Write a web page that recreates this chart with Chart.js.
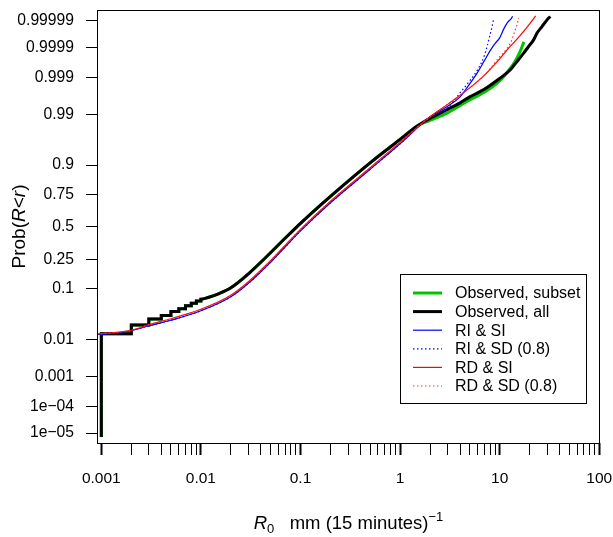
<!DOCTYPE html>
<html>
<head>
<meta charset="utf-8">
<script src="https://cdn.jsdelivr.net/npm/chart.js@4.4.1/dist/chart.umd.min.js"></script>
<style>
  html, body { margin: 0; padding: 0; background: #fff; }
  #wrap { width: 613px; height: 537px; position: relative; }
</style>
</head>
<body>
<div id="wrap"><canvas id="chart"></canvas></div>
<script>
// R0 in mm per 15 minutes (x), cumulative probability Prob(R<r) (y)

// observed, all data (empirical CDF: steps at the gauge resolution, then smooth)
const obsAllX = [0.001, 0.001, 0.002, 0.002, 0.003, 0.003, 0.004, 0.004, 0.005, 0.005,
  0.006, 0.006, 0.007, 0.007, 0.008, 0.008, 0.009, 0.009, 0.01, 0.01,
  0.012, 0.015, 0.02, 0.03, 0.05, 0.07, 0.1, 0.2, 0.5, 1, 1.5, 2, 3, 4, 5, 7, 10,
  12.8, 14.9, 17.4, 19.5, 21.9, 23.7, 26.6, 29.9, 32.2];
const obsAllP = [0.000007, 0.0136, 0.0136, 0.0212, 0.0212, 0.0284, 0.0284, 0.0335, 0.0335, 0.0400,
  0.0400, 0.0455, 0.0455, 0.0515, 0.0515, 0.0570, 0.0570, 0.0626, 0.0626, 0.0673,
  0.0730, 0.0835, 0.1042, 0.1664, 0.2968, 0.4076, 0.5305, 0.7372, 0.9079, 0.9651, 0.9819, 0.98774, 0.99255, 0.99490, 0.99645, 0.99781, 0.99895,
  0.999427, 0.999690, 0.999839, 0.999906, 0.999946, 0.9999698, 0.9999832, 0.9999909, 0.9999934];

// observed, subset
const obsSubX = [0.001, 0.001, 0.002, 0.002, 0.003, 0.003, 0.004, 0.004, 0.005, 0.005,
  0.006, 0.006, 0.007, 0.007, 0.008, 0.008, 0.009, 0.009, 0.01, 0.01,
  0.012, 0.015, 0.02, 0.03, 0.05, 0.07, 0.1, 0.2, 0.5, 1, 1.5, 2, 3, 5, 7, 10, 12, 14, 16, 17.5];
const obsSubP = [0.000007, 0.0136, 0.0136, 0.0212, 0.0212, 0.0284, 0.0284, 0.0335, 0.0335, 0.0400,
  0.0400, 0.0455, 0.0455, 0.0515, 0.0515, 0.0570, 0.0570, 0.0626, 0.0626, 0.0673,
  0.0730, 0.0835, 0.1042, 0.1664, 0.2968, 0.4076, 0.5305, 0.7372, 0.9079, 0.9651, 0.9819, 0.98635, 0.99092, 0.99574, 0.99734, 0.99875, 0.999339, 0.999660, 0.999854, 0.9999362];

// model RI & SI
const riSiX = [0.0009, 0.001, 0.002, 0.003, 0.005, 0.01, 0.02, 0.03, 0.05, 0.07, 0.1, 0.2, 0.5, 1, 2, 3, 4, 5, 6, 7, 8, 9, 10, 11, 12, 13, 13.5];
const riSiP = [0.0130, 0.0132, 0.0159, 0.0205, 0.0268, 0.0415, 0.0744, 0.1219, 0.2327, 0.3396, 0.4678, 0.6917, 0.8837, 0.9574,
  0.98868, 0.99374, 0.99645, 0.99847, 0.999313, 0.999707, 0.999866, 0.9999277, 0.9999545, 0.9999793, 0.9999885, 0.9999917, 0.9999935];

// model RI & SD (0.8)
const riSdX = [0.0009, 0.001, 0.002, 0.003, 0.005, 0.01, 0.02, 0.03, 0.05, 0.07, 0.1, 0.2, 0.5, 1, 2, 3, 4, 5, 6, 7, 7.5, 8, 8.5, 8.7];
const riSdP = [0.0130, 0.0132, 0.0159, 0.0205, 0.0268, 0.0415, 0.0744, 0.1219, 0.2327, 0.3396, 0.4678, 0.6917, 0.8837, 0.9574,
  0.98868, 0.99316, 0.99724, 0.99875, 0.999427, 0.999801, 0.999911, 0.999965, 0.9999869, 0.9999917];

// model RD & SI
const rdSiX = [0.0009, 0.001, 0.002, 0.003, 0.005, 0.01, 0.02, 0.03, 0.05, 0.07, 0.1, 0.2, 0.5, 1, 2, 3, 5, 7, 10, 12, 15, 20, 23];
const rdSiP = [0.0134, 0.0136, 0.0163, 0.0216, 0.0288, 0.0443, 0.0789, 0.1285, 0.2423, 0.3510, 0.4802, 0.7025, 0.8896, 0.9601,
  0.98868, 0.99441, 0.99800, 0.999148, 0.999749, 0.999882, 0.999950, 0.9999869, 0.9999937];

// model RD & SD (0.8)
const rdSdX = [0.0009, 0.001, 0.002, 0.003, 0.005, 0.01, 0.02, 0.03, 0.05, 0.07, 0.1, 0.2, 0.5, 1, 2, 3, 5, 7, 10, 12, 13, 14, 15, 15.5];
const rdSdP = [0.0134, 0.0136, 0.0163, 0.0216, 0.0288, 0.0443, 0.0789, 0.1285, 0.2423, 0.3510, 0.4802, 0.7025, 0.8896, 0.9601,
  0.98868, 0.99441, 0.99800, 0.999148, 0.999785, 0.999895, 0.9999362, 0.9999705, 0.9999869, 0.9999925];

const legendLabels = ['Observed, subset', 'Observed, all', 'RI & SI', 'RI & SD (0.8)', 'RD & SI', 'RD & SD (0.8)'];

// axis ticks
const yTickProbs = [0.00001, 0.0001, 0.001, 0.01, 0.1, 0.25, 0.5, 0.75, 0.9, 0.99, 0.999, 0.9999, 0.99999];
const yTickLabels = ['1e\u221205', '1e\u221204', '0.001', '0.01', '0.1', '0.25', '0.5', '0.75', '0.9', '0.99', '0.999', '0.9999', '0.99999'];
const xMajorTicks = [0.001, 0.01, 0.1, 1, 10, 100];
const xMajorLabels = ['0.001', '0.01', '0.1', '1', '10', '100'];

const FONT = '"Liberation Sans", Arial, Helvetica, sans-serif';

// normal quantile (Acklam) - the y axis is a probit scale
function qnorm(p) {
  const a = [-3.969683028665376e+01, 2.209460984245205e+02, -2.759285104469687e+02, 1.383577518672690e+02, -3.066479806614716e+01, 2.506628277459239e+00];
  const b = [-5.447609879822406e+01, 1.615858368580409e+02, -1.556989798598866e+02, 6.680131188771972e+01, -1.328068155288572e+01];
  const c = [-7.784894002430293e-03, -3.223964580411365e-01, -2.400758277161838e+00, -2.549732539343734e+00, 4.374664141464968e+00, 2.938163982698783e+00];
  const d = [7.784695709041462e-03, 3.224671290700398e-01, 2.445134137142996e+00, 3.754408661907416e+00];
  const pl = 0.02425;
  let q, r;
  if (p < pl) {
    q = Math.sqrt(-2 * Math.log(p));
    return (((((c[0] * q + c[1]) * q + c[2]) * q + c[3]) * q + c[4]) * q + c[5]) / ((((d[0] * q + d[1]) * q + d[2]) * q + d[3]) * q + 1);
  }
  if (p > 1 - pl) {
    q = Math.sqrt(-2 * Math.log(1 - p));
    return -(((((c[0] * q + c[1]) * q + c[2]) * q + c[3]) * q + c[4]) * q + c[5]) / ((((d[0] * q + d[1]) * q + d[2]) * q + d[3]) * q + 1);
  }
  q = p - 0.5;
  r = q * q;
  return (((((a[0] * r + a[1]) * r + a[2]) * r + a[3]) * r + a[4]) * r + a[5]) * q / (((((b[0] * r + b[1]) * r + b[2]) * r + b[3]) * r + b[4]) * r + 1);
}

const toPoints = (xs, ps) => xs.map((x, i) => ({ x, y: qnorm(ps[i]) }));

function series(xs, ps, color, width, dash, order) {
  return {
    data: toPoints(xs, ps),
    borderColor: color,
    borderWidth: width,
    borderDash: dash,
    pointRadius: 0,
    // monotone keeps the vertical/horizontal steps straight and smooths the rest
    cubicInterpolationMode: 'monotone',
    fill: false,
    order,
  };
}

// x tick list: 1..9 x 10^n from 0.001 to 100
const xAllTicks = [];
xMajorTicks.forEach((m, i) => {
  const top = i === xMajorTicks.length - 1 ? 1 : 9;
  for (let k = 1; k <= top; k++) xAllTicks.push(+(m * k).toPrecision(3));
});
const isMajor = v => xMajorTicks.some(m => Math.abs(m - v) / m < 1e-6);

// box, axis titles and legend
const decorPlugin = {
  id: 'decor',
  afterDraw(chart) {
    const { ctx, chartArea: ca } = chart;
    ctx.save();

    // plot frame
    ctx.strokeStyle = '#000';
    ctx.lineWidth = 1;
    ctx.strokeRect(Math.round(ca.left) + 0.5, Math.round(ca.top) + 0.5,
      Math.round(ca.right - ca.left) - 1, Math.round(ca.bottom - ca.top));

    ctx.fillStyle = '#000';
    ctx.textBaseline = 'alphabetic';

    // y title: Prob(R<r)
    const yParts = [['Prob(', ''], ['R', 'italic '], ['<', ''], ['r', 'italic '], [')', '']];
    ctx.save();
    ctx.translate(25, (ca.top + ca.bottom) / 2);
    ctx.rotate(-Math.PI / 2);
    let w = 0;
    yParts.forEach(([t, s]) => { ctx.font = s + '19px ' + FONT; w += ctx.measureText(t).width; });
    let cx = -w / 2;
    yParts.forEach(([t, s]) => {
      ctx.font = s + '19px ' + FONT;
      ctx.fillText(t, cx, 0);
      cx += ctx.measureText(t).width;
    });
    ctx.restore();

    // x title: R0  mm (15 minutes)^-1
    const xParts = [
      ['R', 'italic 18.5px ', 0],
      ['0', '13px ', 4],
      ['   mm (15 minutes)', '18.5px ', 0],
      ['\u22121', '13px ', -8],
    ];
    w = 0;
    xParts.forEach(([t, f]) => { ctx.font = f + FONT; w += ctx.measureText(t).width; });
    cx = (ca.left + ca.right) / 2 - w / 2;
    const base = 529;
    xParts.forEach(([t, f, dy]) => {
      ctx.font = f + FONT;
      ctx.fillText(t, cx, base + dy);
      cx += ctx.measureText(t).width;
    });

    // legend
    const lx = 400.5, ly = 274.5, lw = 186, lh = 129;
    ctx.fillStyle = '#fff';
    ctx.fillRect(lx, ly, lw, lh);
    ctx.strokeStyle = '#000';
    ctx.lineWidth = 1;
    ctx.strokeRect(lx, ly, lw, lh);
    ctx.font = '16px ' + FONT;
    ctx.textBaseline = 'middle';
    legendLabels.forEach((label, i) => {
      const ds = chart.data.datasets[i];
      const y = 293 + i * 18.6;
      ctx.beginPath();
      ctx.strokeStyle = ds.borderColor;
      ctx.lineWidth = ds.borderWidth;
      ctx.setLineDash(ds.borderDash || []);
      ctx.moveTo(413, y);
      ctx.lineTo(442, y);
      ctx.stroke();
      ctx.setLineDash([]);
      ctx.fillStyle = '#000';
      ctx.fillText(label, 455, y + 1);
    });
    ctx.restore();
  },
};

Chart.defaults.font.family = FONT;
Chart.defaults.color = '#000';

new Chart(document.getElementById('chart'), {
  type: 'line',
  data: {
    datasets: [
      series(obsSubX, obsSubP, '#00c400', 3, [], 6),
      series(obsAllX, obsAllP, '#000000', 3, [], 5),
      series(riSiX, riSiP, '#0000ff', 1.2, [], 4),
      series(riSdX, riSdP, '#0000ff', 1.2, [1.5, 2.5], 3),
      series(rdSiX, rdSiP, '#ff0000', 1.2, [], 2),
      series(rdSdX, rdSdP, '#ff3030', 1.2, [1.5, 2.5], 1),
    ],
  },
  options: {
    responsive: true,
    maintainAspectRatio: false,
    animation: false,
    devicePixelRatio: 1,
    layout: { padding: { left: 0, top: 10, right: 13, bottom: 0 } },
    plugins: {
      legend: { display: false },
      tooltip: { enabled: false },
    },
    scales: {
      x: {
        type: 'logarithmic',
        min: 0.000905,
        max: 101.7,
        afterBuildTicks: scale => { scale.ticks = xAllTicks.map(v => ({ value: v })); },
        afterFit: scale => {
          scale.height = 94;
          scale.paddingLeft = 0;
          scale.paddingRight = 0;
        },
        border: { display: false },
        grid: {
          drawOnChartArea: false,
          drawTicks: true,
          tickLength: 12,
          tickColor: '#000',
          tickWidth: c => (c.tick && isMajor(c.tick.value) ? 2 : 1),
        },
        ticks: {
          autoSkip: false,
          maxRotation: 0,
          padding: 14,
          font: { size: 15.5 },
          callback: v => {
            const i = xMajorTicks.findIndex(m => Math.abs(m - v) / m < 1e-6);
            return i >= 0 ? xMajorLabels[i] : '';
          },
        },
      },
      y: {
        type: 'linear',
        min: -4.47,
        max: 4.49,
        afterBuildTicks: scale => { scale.ticks = yTickProbs.map(p => ({ value: qnorm(p) })); },
        afterFit: scale => {
          scale.width = 97;
          scale.paddingTop = 0;
          scale.paddingBottom = 0;
        },
        border: { display: false },
        grid: {
          drawOnChartArea: false,
          drawTicks: true,
          tickLength: 11,
          tickColor: '#000',
          tickWidth: 1,
        },
        ticks: {
          autoSkip: false,
          padding: 12,
          font: { size: 15.7 },
          callback: (v, i) => yTickLabels[i],
        },
      },
    },
  },
  plugins: [decorPlugin],
});
</script>
</body>
</html>
